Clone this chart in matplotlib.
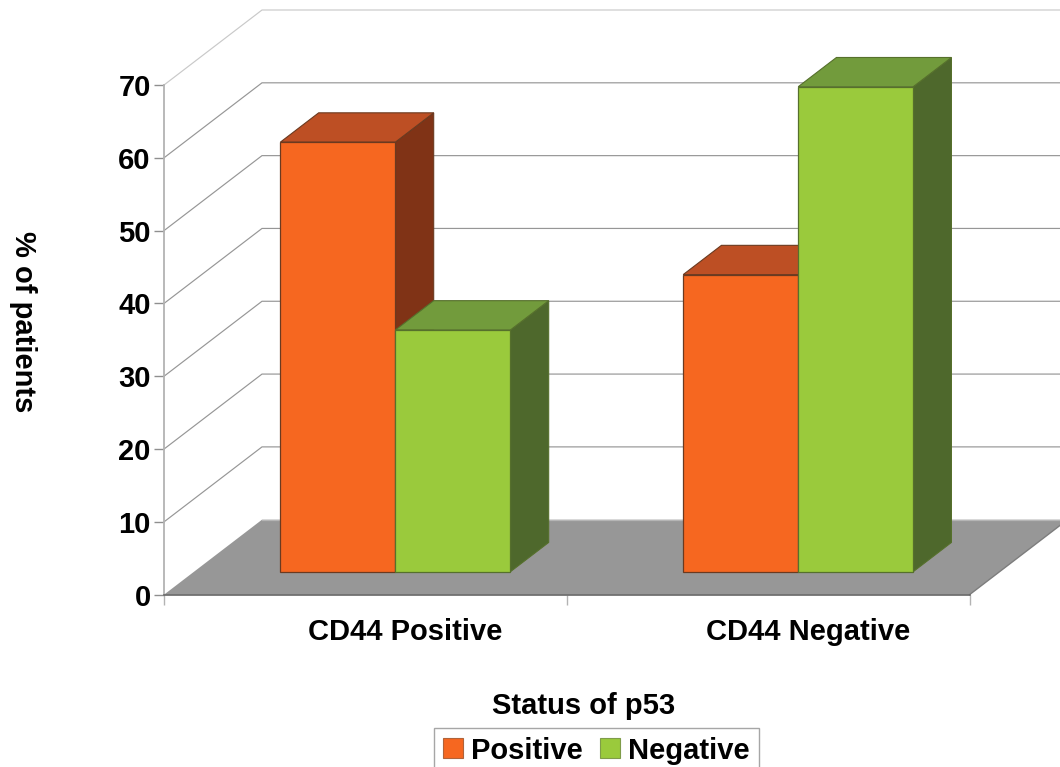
import matplotlib
matplotlib.use("Agg")
import matplotlib.pyplot as plt
from matplotlib.patches import Polygon, Patch

plt.rcParams['font.family'] = ['Liberation Sans', 'DejaVu Sans']

categories = ["CD44 Positive", "CD44 Negative"]
series_names = ["Positive", "Negative"]
positive = [59.0, 40.8]
negative = [33.2, 66.6]
y_ticks = [0, 10, 20, 30, 40, 50, 60, 70]

W, H = 1060, 767
L, R, B, T = 164.0, 969.5, 594.7, 85.0
fig = plt.figure(figsize=(W / 100, H / 100), dpi=100)
ax = fig.add_axes([L / W, 1 - B / H, (R - L) / W, (B - T) / H])
ax.set_xlim(0, 2)
ax.set_ylim(0, 70)
ax.patch.set_visible(False)

ux = (R - L) / 2
uy = (B - T) / 70
DX = 98 / ux   # chart depth, x (category units)
DY = 75 / uy   # chart depth, y (value units)
BAR_D0 = 0.307
BAR_D1 = 0.307 + 0.39
BAR_W = 115.0 / ux
FS = 21


def P(x, v, d):
    return (x + d * DX, v + d * DY)


def poly(pts, fc, ec='none', lw=0.0, z=1):
    ax.add_patch(Polygon(pts, closed=True, facecolor=fc, edgecolor=ec,
                         linewidth=lw, zorder=z, clip_on=False,
                         joinstyle='miter'))


# floor
poly([P(0, 0, 0), P(2, 0, 0), P(2, 0, 1), P(0, 0, 1)], '#979797', z=1)

# gridlines on side and back wall
for v in y_ticks:
    col = '#c9c9c9' if v == 70 else '#969696'
    if v == 0:
        xs, ys = zip(P(0, v, 1), P(2, v, 1))
        ax.plot(xs, ys, color='#b5b5b5', lw=0.9, zorder=1.5, clip_on=False)
        continue
    pts = [P(0, v, 0), P(0, v, 1), P(2, v, 1)]
    xs, ys = zip(*pts)
    ax.plot(xs, ys, color=col, lw=0.85, zorder=1.5, clip_on=False,
            solid_joinstyle='miter')
xs, ys = zip(P(2, 0, 0), P(2, 0, 1))
ax.plot(xs, ys, color='#7d7d7d', lw=1.0, zorder=1.5, clip_on=False)


def bar3d(x0, v, front, top, side, edge, z):
    x1 = x0 + BAR_W
    poly([P(x1, 0, BAR_D0), P(x1, 0, BAR_D1), P(x1, v, BAR_D1), P(x1, v, BAR_D0)],
         side, edge, 0.8, z)
    poly([P(x0, v, BAR_D0), P(x1, v, BAR_D0), P(x1, v, BAR_D1), P(x0, v, BAR_D1)],
         top, edge, 0.8, z)
    poly([P(x0, 0, BAR_D0), P(x1, 0, BAR_D0), P(x1, v, BAR_D0), P(x0, v, BAR_D0)],
         front, edge, 0.9, z + 0.1)


ORANGE = ('#f66720', '#bd4f24', '#803316', '#6b3a20')
GREEN = ('#9aca3c', '#729b3c', '#4e682c', '#56702c')
for i in range(len(categories)):
    c = i + 0.5
    bar3d(c - BAR_W, positive[i], *ORANGE, 3 + i * 2)
    bar3d(c, negative[i], *GREEN, 4 + i * 2)

# axes
for s in ('top', 'right'):
    ax.spines[s].set_visible(False)
ax.spines['left'].set_color('#b3b3b3')
ax.spines['left'].set_linewidth(1.3)
ax.spines['bottom'].set_color('#666666')
ax.spines['bottom'].set_linewidth(1.2)
ax.spines['left'].set_zorder(2)
ax.spines['bottom'].set_zorder(2)
ax.set_yticks(y_ticks)
ax.set_yticklabels([str(v) for v in y_ticks], fontsize=FS, fontweight='bold')
ax.tick_params(axis='y', length=7.5, width=1, color='#8f8f8f', pad=2)
ax.set_xticks([0, 1, 2])
ax.set_xticklabels([])
ax.tick_params(axis='x', which='major', length=7.5, width=1, color='#b3b3b3')
ax.set_xticks([0.6, 1.6], minor=True)
ax.set_xticklabels(categories, minor=True, fontsize=FS, fontweight='bold')
ax.tick_params(axis='x', which='minor', length=0, pad=16.5)

fig.text(584 / W, 1 - 706 / H, "Status of p53", ha='center', va='center',
         fontsize=FS, fontweight='bold')
fig.text(23 / W, 1 - 322 / H, "% of patients", ha='center', va='center',
         rotation=270, fontsize=FS, fontweight='bold')

handles = [Patch(facecolor=ORANGE[0], edgecolor='#b0633a', lw=0.8, label=series_names[0]),
           Patch(facecolor=GREEN[0], edgecolor='#7f9c4a', lw=0.8, label=series_names[1])]
leg = fig.legend(handles=handles, loc='upper left',
                 bbox_to_anchor=(434 / W, 1 - 727.5 / H), ncol=2,
                 prop={'size': FS, 'weight': 'bold'}, frameon=True, fancybox=False,
                 edgecolor='#a6a6a6', framealpha=1, borderaxespad=0,
                 handlelength=0.685, handleheight=0.685, handletextpad=0.27,
                 columnspacing=0.6, borderpad=0.31)
leg.get_frame().set_linewidth(1.0)

fig.savefig("out.png", dpi=100)
